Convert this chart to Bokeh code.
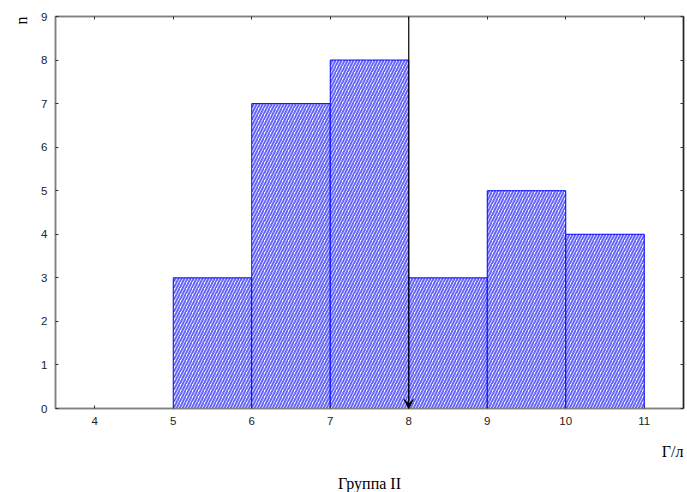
from bokeh.plotting import figure
from bokeh.models import (Range1d, LinearAxis, FixedTicker, Arrow, VeeHead,
                          ColumnDataSource, Title)
from bokeh.embed import file_html
from bokeh.resources import INLINE

# Data
bin_left = [4, 5, 6, 7, 8, 9, 10]
bin_right = [5, 6, 7, 8, 9, 10, 11]
counts = [0, 3, 7, 8, 3, 5, 4]
x_ticks = [4, 5, 6, 7, 8, 9, 10, 11]
y_ticks = [0, 1, 2, 3, 4, 5, 6, 7, 8, 9]
marker_x = 8
y_label = "n"
x_label = "Г/л"
caption = "Группа II"

p = figure(width=687, height=492, output_backend="svg", toolbar_location=None,
           x_range=Range1d(3.5, 11.5), y_range=Range1d(0, 9),
           min_border_left=55, min_border_right=4, min_border_top=16,
           min_border_bottom=84, x_axis_location=None, y_axis_location=None)
p.grid.visible = False
p.outline_line_color = "#808080"
p.outline_line_width = 1.5
p.background_fill_color = "white"
p.border_fill_color = "white"

src = ColumnDataSource(dict(left=bin_left, right=bin_right, top=counts,
                            bottom=[0] * len(counts)))
p.quad(left="left", right="right", top="top", bottom="bottom", source=src,
       fill_color="white", line_color="#0000ff", line_width=1,
       hatch_pattern="/", hatch_color="#0000ff", hatch_alpha=0.6,
       hatch_scale=6, hatch_weight=2.0)

def make_axis(loc, ticks, show_labels):
    ax = LinearAxis(ticker=FixedTicker(ticks=ticks))
    ax.axis_line_color = "#808080"
    ax.axis_line_width = 1.5
    ax.major_tick_in = 3
    ax.major_tick_out = 0
    ax.major_tick_line_color = "#333333"
    ax.minor_tick_line_color = None
    ax.major_label_text_font = "Liberation Sans"
    ax.major_label_text_font_size = "11.5px"
    ax.major_label_text_color = "#222222"
    if show_labels:
        ax.major_label_standoff = 8
    else:
        ax.major_label_standoff = 0
        ax.major_label_overrides = {t: "" for t in ticks}
    p.add_layout(ax, loc)
    return ax

make_axis("below", x_ticks, True)
make_axis("left", y_ticks, True)
make_axis("above", x_ticks, False)
ra = make_axis("right", y_ticks, False)
ra.axis_line_color = "#222222"

p.add_layout(Arrow(end=VeeHead(size=9, fill_color="black", line_color="black"),
                   x_start=marker_x, y_start=9, x_end=marker_x, y_end=0,
                   line_color="black", line_width=1.2))

t_x = Title(text=x_label, align="right", text_font="Liberation Serif",
            text_font_size="16px", text_font_style="normal", text_color="black",
            standoff=26)
t_cap = Title(text=caption, align="center", text_font="Liberation Serif",
              text_font_size="16px", text_font_style="normal", text_color="black",
              standoff=0)
p.add_layout(t_x, "below")
p.add_layout(t_cap, "below")

t_y = Title(text=y_label, align="right", text_font="Liberation Serif",
            text_font_size="16px", text_font_style="normal", text_color="black",
            standoff=18)
p.add_layout(t_y, "left")

open("out.html", "w").write(file_html(p, INLINE))
